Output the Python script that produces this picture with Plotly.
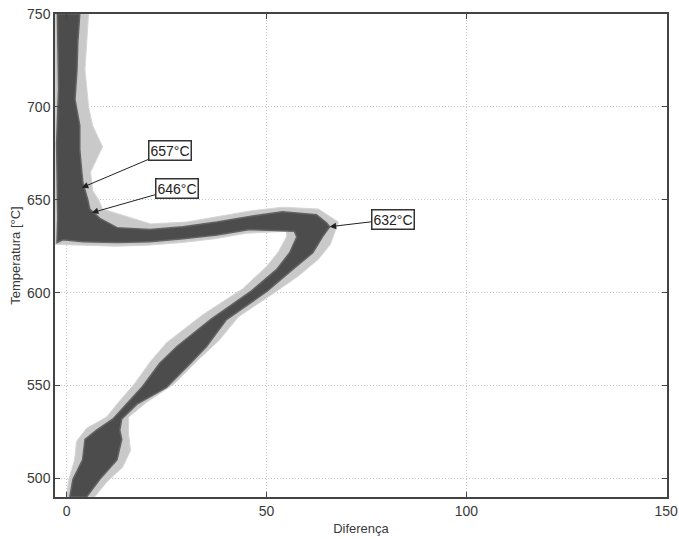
import plotly.graph_objects as go

lower_left_diff = [0.8, 1.6, 4.0, 4.6, 7.5, 11.6, 15.0, 19.0, 23.3, 27.6, 36.0, 46.0, 52.5, 55.8, 57.6, 57.0]
lower_left_temp = [490, 499.5, 510, 521, 526, 532, 540, 549.5, 562, 571, 585.5, 600.5, 612.4, 621.5, 630, 633]
horiz_low_diff = [45.8, 37.6, 29.1, 20.8, 12.6, 4.1, -0.9, -2.4]
horiz_low_temp = [634, 631, 629, 627.4, 627, 627.4, 628.5, 627]
vert_left_diff = [-2.2, -2.5, -2.0, -2.3]
vert_left_temp = [640, 680, 710, 750]
vert_right_diff = [3.3, 2.8, 2.6, 2.1, 3.3, 3.3, 3.8, 4.1, 5.3, 5.8]
vert_right_temp = [750, 735, 720, 704, 690, 677, 665, 659, 650, 645]
horiz_up_diff = [8.3, 12.6, 20.8, 29.1, 37.6, 45.8, 54.0, 62.5, 65.0, 65.8]
horiz_up_temp = [640, 635, 634, 635.5, 638, 641, 643.5, 642, 637.6, 635.5]
lower_right_diff = [64.0, 61.6, 56.5, 50.0, 40.0, 35.0, 31.0, 25.0, 17.6, 13.8, 13.3, 13.8, 12.6, 8.3, 5.0]
lower_right_temp = [630, 621.5, 612.4, 600.5, 585.5, 571, 562, 549, 540, 532, 526, 521, 510, 499.5, 490]

# ---- Lighter fringe of noise spikes around the core ----
spike_left_diff = [0.0, 0.5, 2.0, 2.5, 5.0, 10.0, 13.0, 17.0, 21.0, 25.0, 34.0, 44.0, 50.0, 53.0, 55.0, 55.0,
                   45.0, 37.0, 29.0, 20.0, 12.0, 4.0, -1.0, -2.9, -2.9, -2.9]
spike_left_temp = [490, 499, 510, 520, 527, 533, 541, 551, 563, 573, 588, 602, 614, 622, 630, 633,
                   632, 629, 627, 625.5, 625, 625.5, 626, 626, 690, 750]
spike_right_diff = [5.5, 5.0, 4.6, 5.5, 6.5, 9.0, 6.0, 6.5, 8.0, 9.0,
                    12.0, 21.0, 30.0, 38.0, 46.0, 54.0, 63.0, 68.0, 67.0,
                    66.0, 63.0, 58.0, 52.0, 43.0, 38.0, 33.0, 27.0, 20.0, 15.5, 15.5, 16.0, 14.0, 10.0, 7.0]
spike_right_temp = [750, 735, 720, 700, 690, 678.5, 665, 655, 650, 645,
                    643, 637, 638, 641, 644, 646, 645, 638, 632,
                    626, 618, 609, 600, 587, 574, 564, 551, 541, 533, 524, 515, 506, 498, 490]

# ---- Annotations: label, arrow head (diff, temp), label centre (diff, temp) ----
ann_labels = ["657°C", "646°C", "632°C"]
ann_head_diff = [3.8, 6.3, 65.8]
ann_head_temp = [656.5, 643, 635.5]
ann_text_diff = [25.8, 27.5, 81.6]
ann_text_temp = [676.6, 656, 639.5]

x_ticks = [0, 50, 100, 150]
y_ticks = [500, 550, 600, 650, 700, 750]

core_x = (lower_left_diff + horiz_low_diff + vert_left_diff + vert_right_diff
          + horiz_up_diff + lower_right_diff)
core_y = (lower_left_temp + horiz_low_temp + vert_left_temp + vert_right_temp
          + horiz_up_temp + lower_right_temp)
spike_x = spike_left_diff + spike_right_diff
spike_y = spike_left_temp + spike_right_temp

fig = go.Figure()
fig.add_trace(go.Scatter(
    x=spike_x + [spike_x[0]], y=spike_y + [spike_y[0]],
    mode="lines", fill="toself", fillcolor="#c9c9c9",
    line=dict(color="#d6d6d6", width=1), hoverinfo="skip", showlegend=False,
))
fig.add_trace(go.Scatter(
    x=core_x + [core_x[0]], y=core_y + [core_y[0]],
    mode="lines", fill="toself", fillcolor="#4c4c4c",
    line=dict(color="#626262", width=1.5), hoverinfo="skip", showlegend=False,
))

for lab, hx, hy, tx, ty in zip(ann_labels, ann_head_diff, ann_head_temp, ann_text_diff, ann_text_temp):
    fig.add_annotation(
        x=hx, y=hy, ax=tx, ay=ty, axref="x", ayref="y", xref="x", yref="y",
        text=lab, showarrow=True, arrowhead=2, arrowsize=1.3, arrowwidth=1,
        arrowcolor="#222", font=dict(family="Liberation Sans, Arial", size=14, color="#222"),
        bgcolor="white", bordercolor="#333", borderwidth=1.5, borderpad=1,
    )

axis_common = dict(
    showgrid=True, gridcolor="#c4c4c4", griddash="1px,2px", gridwidth=1,
    showline=True, linecolor="#444", linewidth=1.5, mirror="allticks",
    ticks="inside", ticklen=5, tickcolor="#444", zeroline=False, automargin=False,
    tickfont=dict(family="Liberation Sans, Arial", size=14, color="#3a3a3a"),
)

fig.update_xaxes(range=[-2.9, 150.2], tickvals=x_ticks,
                 title=dict(text="Diferença", standoff=6,
                            font=dict(family="Liberation Sans, Arial", size=13, color="#3a3a3a")),
                 **axis_common)
fig.update_yaxes(range=[490, 750], tickvals=y_ticks,
                 title=dict(text="Temperatura [°C]", standoff=4,
                            font=dict(family="Liberation Sans, Arial", size=13, color="#3a3a3a")),
                 **axis_common)

fig.update_layout(
    width=679, height=539,
    margin=dict(l=55, r=12, t=14, b=42),
    paper_bgcolor="white", plot_bgcolor="white",
    showlegend=False,
)

fig.write_html("out.html")
